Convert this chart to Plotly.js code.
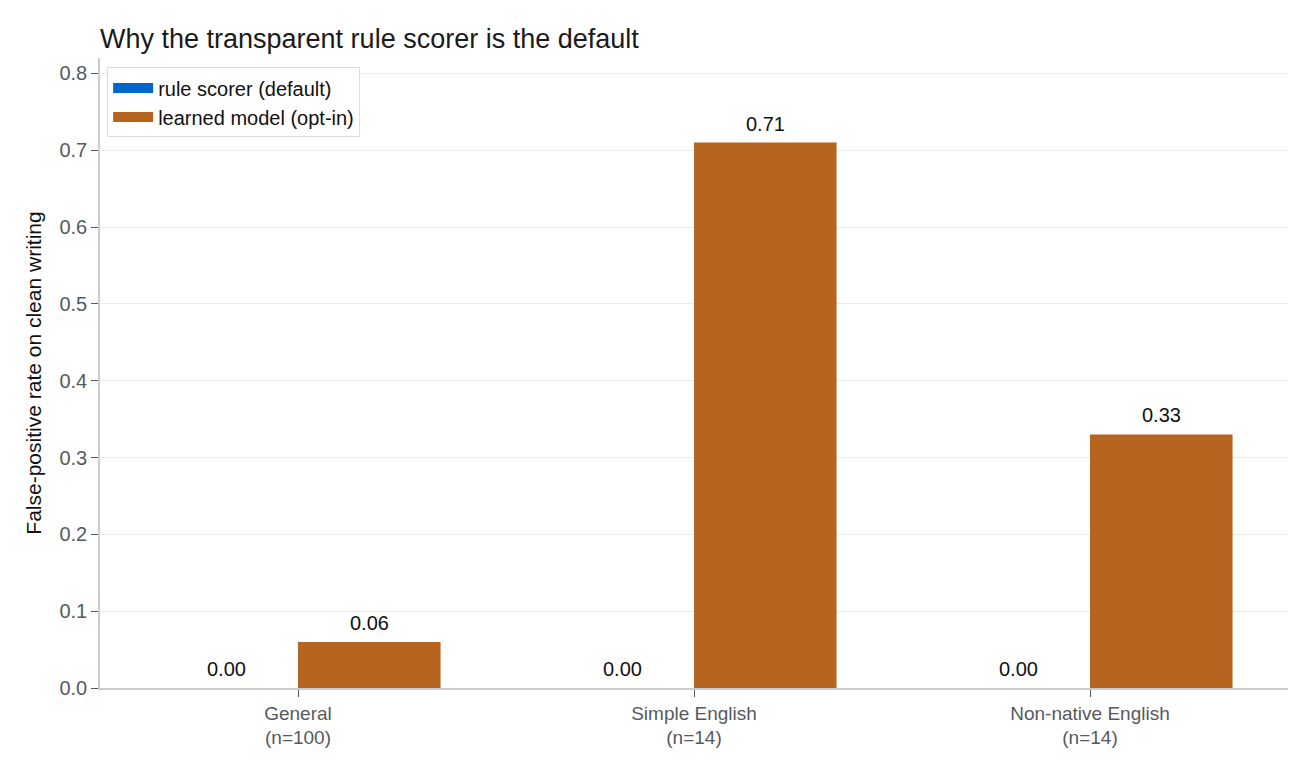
<!DOCTYPE html>
<html>
<head>
<meta charset="utf-8">
<script src="https://cdn.plot.ly/plotly-3.0.1.min.js"></script>
<style>
  html, body { margin: 0; padding: 0; background: #fff; }
  #chart { width: 1312px; height: 768px; }
</style>
</head>
<body>
<div id="chart"></div>
<script>
const categories = ['General<br>(n=100)', 'Simple English<br>(n=14)', 'Non-native English<br>(n=14)'];
const seriesNames = ['rule scorer (default)', 'learned model (opt-in)'];
const seriesColors = ['#0066cc', '#b5651f'];
const ruleScores = [0.0, 0.0, 0.0];
const learnedScores = [0.06, 0.71, 0.33];
const yTicks = [0, 0.1, 0.2, 0.3, 0.4, 0.5, 0.6, 0.7, 0.8];

const font = 'Liberation Sans, Arial, sans-serif';
const allSeries = [ruleScores, learnedScores];

// bars (legend drawn by the line stand-ins below so the swatches are wide)
const data = allSeries.map((vals, i) => ({
    x: categories,
    y: vals,
    name: seriesNames[i],
    type: 'bar',
    marker: { color: seriesColors[i] },
    showlegend: false,
    hoverinfo: 'y'
}));

seriesNames.forEach((n, i) => {
    data.push({
        x: [null], y: [null],
        type: 'scatter', mode: 'lines',
        name: n,
        line: { color: seriesColors[i], width: 15 },
        hoverinfo: 'skip'
    });
});

// value labels sit a little above each bar
const annotations = [];
allSeries.forEach((vals, i) => {
    vals.forEach((v, j) => {
        annotations.push({
            x: categories[j], y: v,
            xref: 'x', yref: 'y',
            text: v.toFixed(2),
            showarrow: false,
            xanchor: 'center', yanchor: 'bottom',
            xshift: i === 0 ? -71.5 : 71.5,
            yshift: 6,
            font: { size: 20, color: '#111' }
        });
    });
});

const layout = {
    width: 1312,
    height: 768,
    font: { family: font, size: 20, color: '#222' },
    paper_bgcolor: '#fff',
    plot_bgcolor: '#fff',
    margin: { l: 100, r: 24, t: 58, b: 80 },
    title: {
        text: 'Why the transparent rule scorer is the default',
        font: { size: 27, color: '#1a1a1a' },
        x: 0, xref: 'paper', xanchor: 'left',
        y: 1, yref: 'paper', yanchor: 'bottom', pad: { b: 10 }
    },
    barmode: 'group',
    bargap: 0.28,
    bargroupgap: 0,
    xaxis: {
        tickfont: { size: 19, color: '#555a60' },
        showline: true,
        linecolor: '#c8ccd0',
        linewidth: 1.5,
        ticks: 'outside',
        ticklen: 7,
        tickcolor: '#555a60',
        showgrid: false,
        zeroline: false
    },
    yaxis: {
        title: { text: 'False-positive rate on clean writing', font: { size: 21, color: '#111' }, standoff: 12 },
        range: [0, 0.82],
        tickvals: yTicks,
        ticktext: yTicks.map(v => v.toFixed(1)),
        tickfont: { size: 20, color: '#555a60' },
        showline: true,
        linecolor: '#c8ccd0',
        linewidth: 1.5,
        ticks: 'outside',
        ticklen: 7,
        tickcolor: '#555a60',
        gridcolor: '#ebebeb',
        zeroline: false
    },
    legend: {
        x: 0.006, y: 0.985,
        xanchor: 'left', yanchor: 'top',
        bgcolor: 'rgba(255,255,255,0.9)',
        bordercolor: '#dddddd',
        borderwidth: 1,
        itemwidth: 40,
        font: { size: 20, color: '#111' }
    },
    annotations: annotations
};

Plotly.newPlot('chart', data, layout, { displayModeBar: false });
</script>
</body>
</html>
